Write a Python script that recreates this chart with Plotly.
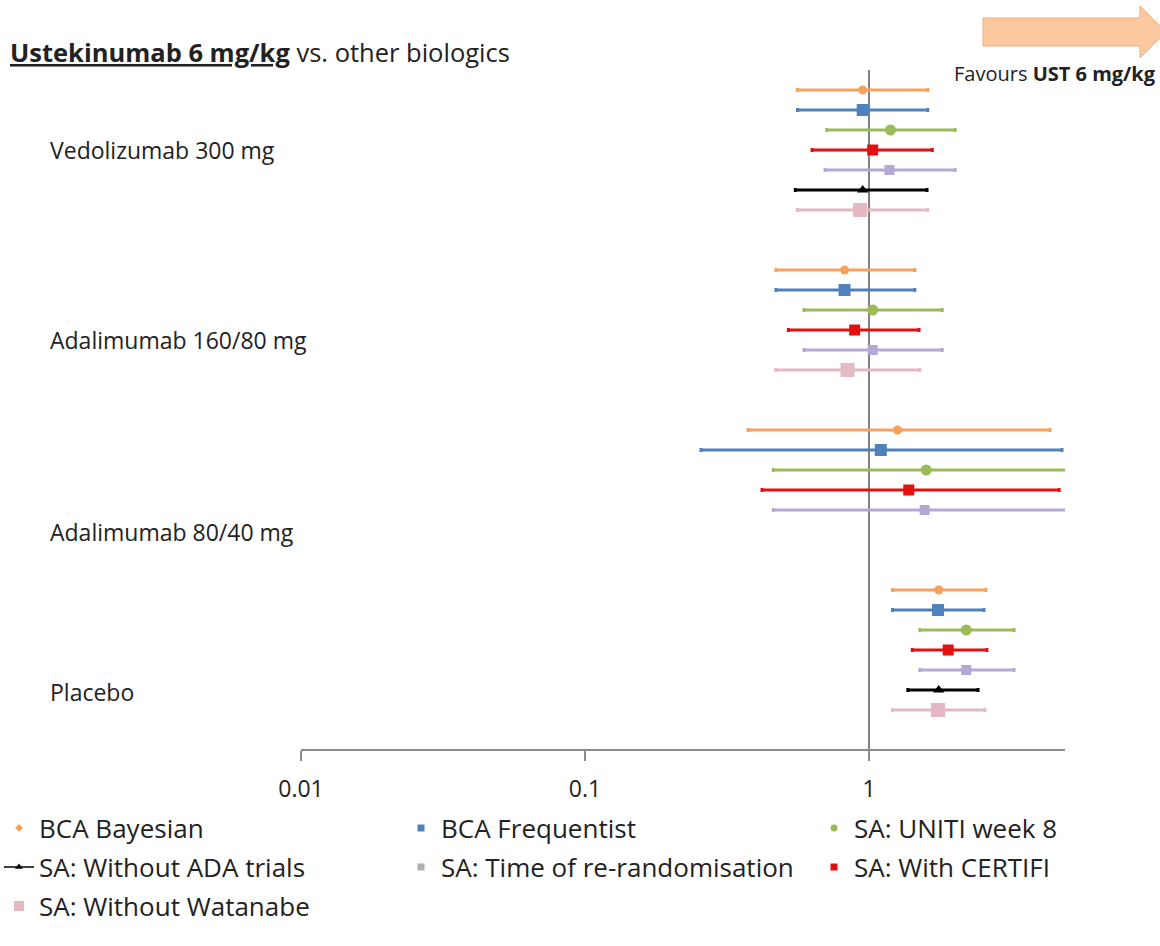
import plotly.graph_objects as go

# ---------------- data ----------------
groups = ["Vedolizumab 300 mg", "Adalimumab 160/80 mg", "Adalimumab 80/40 mg", "Placebo"]

series_names = ["BCA Bayesian", "BCA Frequentist", "SA: UNITI week 8", "SA: With CERTIFI",
                "SA: Time of re-randomisation", "SA: Without ADA trials", "SA: Without Watanabe"]

bayes_est = [0.95, 0.82, 1.26, 1.76]
bayes_lo = [0.56, 0.47, 0.375, 1.21]
bayes_hi = [1.61, 1.45, 4.34, 2.58]

freq_est = [0.95, 0.82, 1.10, 1.75]
freq_lo = [0.56, 0.47, 0.256, 1.21]
freq_hi = [1.61, 1.45, 4.78, 2.54]

uniti_est = [1.19, 1.03, 1.59, 2.20]
uniti_lo = [0.71, 0.59, 0.46, 1.51]
uniti_hi = [2.01, 1.81, 6.0, 3.24]

certifi_est = [1.03, 0.89, 1.38, 1.90]
certifi_lo = [0.63, 0.52, 0.42, 1.42]
certifi_hi = [1.67, 1.50, 4.67, 2.60]

time_est = [1.18, 1.03, 1.57, 2.20]
time_lo = [0.70, 0.59, 0.46, 1.51]
time_hi = [2.01, 1.81, 6.0, 3.24]

noada_est = [0.95, None, None, 1.76]
noada_lo = [0.55, None, None, 1.37]
noada_hi = [1.60, None, None, 2.42]

watanabe_est = [0.93, 0.84, None, 1.75]
watanabe_lo = [0.56, 0.47, None, 1.21]
watanabe_hi = [1.61, 1.51, None, 2.56]

tick_vals = [0.01, 0.1, 1]
tick_text = ["0.01", "0.1", "1"]

# legend order as in the reference (3 columns, row by row)
legend_order = ["BCA Bayesian", "BCA Frequentist", "SA: UNITI week 8",
                "SA: Without ADA trials", "SA: Time of re-randomisation", "SA: With CERTIFI",
                "SA: Without Watanabe"]

# ---------------- layout helpers ----------------
W, H = 1160, 946
ML, MR, MT, MB = 301, 95, 40, 197
PW, PH = W - ML - MR, H - MT - MB
FONT = "Open Sans"

def px_x(p):
    return (p - ML) / PW

def px_y(p):
    return (H - MB - p) / PH

# row slots (one slot = one row of the forest plot)
group_start = [0, 9, 17, 25]
label_slot = [3, 12.5, 22.1, 30.1]
y_range = [32.95, -2.5]

styles = {
    "BCA Bayesian": dict(color="#F7A25A", symbol="circle", size=9),
    "BCA Frequentist": dict(color="#4F81BD", symbol="square", size=12),
    "SA: UNITI week 8": dict(color="#9BBB59", symbol="circle", size=11),
    "SA: With CERTIFI": dict(color="#E41010", symbol="square", size=11),
    "SA: Time of re-randomisation": dict(color="#B6A8D4", symbol="square", size=10),
    "SA: Without ADA trials": dict(color="#000000", symbol="triangle-up", size=10),
    "SA: Without Watanabe": dict(color="#E6B8C3", symbol="square", size=14),
}

series_data = {
    "BCA Bayesian": (bayes_est, bayes_lo, bayes_hi),
    "BCA Frequentist": (freq_est, freq_lo, freq_hi),
    "SA: UNITI week 8": (uniti_est, uniti_lo, uniti_hi),
    "SA: With CERTIFI": (certifi_est, certifi_lo, certifi_hi),
    "SA: Time of re-randomisation": (time_est, time_lo, time_hi),
    "SA: Without ADA trials": (noada_est, noada_lo, noada_hi),
    "SA: Without Watanabe": (watanabe_est, watanabe_lo, watanabe_hi),
}

# compute row slot for each series within each group (stacked in series order)
slots = {name: [None] * len(groups) for name in series_names}
for g in range(len(groups)):
    k = 0
    for name in series_names:
        if series_data[name][0][g] is not None:
            slots[name][g] = group_start[g] + k
            k += 1

fig = go.Figure()

for name in series_names:
    est, lo, hi = series_data[name]
    st = styles[name]
    xs, ys, plus, minus = [], [], [], []
    for g in range(len(groups)):
        if est[g] is None:
            continue
        xs.append(est[g])
        ys.append(slots[name][g])
        plus.append(hi[g] - est[g])
        minus.append(est[g] - lo[g])
    fig.add_trace(go.Scatter(
        x=xs, y=ys, mode="markers", name=name, showlegend=False,
        marker=dict(color=st["color"], symbol=st["symbol"], size=st["size"], line=dict(width=0)),
        error_x=dict(type="data", symmetric=False, array=plus, arrayminus=minus,
                     color=st["color"], thickness=3, width=2),
    ))

# legend-only entries (small icons as in the reference); one legend per entry
legend_sizes = {"BCA Bayesian": 6, "BCA Frequentist": 7, "SA: UNITI week 8": 7,
                "SA: Without ADA trials": 7, "SA: Time of re-randomisation": 7,
                "SA: With CERTIFI": 7, "SA: Without Watanabe": 10}
legend_mark = {"BCA Bayesian": "diamond", "BCA Frequentist": "square", "SA: UNITI week 8": "circle",
               "SA: Without ADA trials": "triangle-up", "SA: Time of re-randomisation": "square",
               "SA: With CERTIFI": "square", "SA: Without Watanabe": "square"}
legend_col = dict((n, styles[n]["color"]) for n in series_names)
legend_col["SA: Time of re-randomisation"] = "#B0B0B0"

col_text_px = [40, 442, 855]
row_px = [828, 867, 906]

legend_layouts = {}
for i, name in enumerate(legend_order):
    lg = "legend" if i == 0 else f"legend{i + 1}"
    mode = "lines+markers" if name == "SA: Without ADA trials" else "markers"
    fig.add_trace(go.Scatter(
        x=[None], y=[None], mode=mode, name=name, legend=lg, showlegend=True,
        marker=dict(color=legend_col[name], symbol=legend_mark[name], size=legend_sizes[name]),
        line=dict(color=legend_col[name], width=1.5),
    ))
    r, c = divmod(i, 3)
    legend_layouts[lg] = dict(orientation="h", x=px_x(col_text_px[c] - 41), xanchor="left",
                              y=px_y(row_px[r]), yanchor="middle",
                              font=dict(family=FONT, size=26, color="#222222"),
                              bgcolor="rgba(0,0,0,0)", itemwidth=30)

annotations = []
for g, lab in enumerate(groups):
    annotations.append(dict(text=lab, xref="paper", yref="y", x=px_x(48), y=label_slot[g],
                            xanchor="left", yanchor="middle", showarrow=False,
                            font=dict(family=FONT, size=23, color="#222222")))

annotations.append(dict(text="<b><u>Ustekinumab 6 mg/kg</u></b> vs. other biologics",
                        xref="paper", yref="paper", x=px_x(8), y=px_y(52),
                        xanchor="left", yanchor="middle", showarrow=False,
                        font=dict(family=FONT, size=25.5, color="#222222")))
annotations.append(dict(text="Favours <b>UST 6 mg/kg</b>",
                        xref="paper", yref="paper", x=px_x(1158), y=px_y(73),
                        xanchor="right", yanchor="middle", showarrow=False,
                        font=dict(family=FONT, size=20, color="#222222")))

# arrow "favours" (pixel geometry converted to paper coordinates)
ax0, ax1, ax2 = 983, 1140, 1166
ay_top, ay_bot, ah_top, ah_bot, ay_mid = 18, 46, 6, 58, 32
pts = [(ax0, ay_top), (ax1, ay_top), (ax1, ah_top), (ax2, ay_mid), (ax1, ah_bot), (ax1, ay_bot), (ax0, ay_bot)]
path = "M " + " L ".join(f"{px_x(a):.5f},{px_y(b):.5f}" for a, b in pts) + " Z"

shapes = [
    dict(type="line", xref="x", yref="y", x0=1, x1=1, y0=-1, y1=y_range[0],
         line=dict(color="#808080", width=2), layer="below"),
    dict(type="path", xref="paper", yref="paper", path=path,
         fillcolor="#FBC8A0", line=dict(color="#F3AE7E", width=1)),
]

fig.update_layout(
    width=W, height=H,
    margin=dict(l=ML, r=MR, t=MT, b=MB, pad=0, autoexpand=False),
    paper_bgcolor="white", plot_bgcolor="white",
    font=dict(family=FONT, color="#222222"),
    showlegend=True,
    annotations=annotations,
    shapes=shapes,
    xaxis=dict(type="log", range=[-2, 0.69], showgrid=False, zeroline=False,
               showline=True, linecolor="#8A8A8A", linewidth=2,
               ticks="outside", ticklen=10, tickwidth=2, tickcolor="#8A8A8A",
               tickvals=tick_vals, ticktext=tick_text, ticklabelstandoff=8,
               tickfont=dict(family=FONT, size=23, color="#222222")),
    yaxis=dict(range=y_range, showgrid=False, zeroline=False, showline=False,
               showticklabels=False, ticks=""),
)
fig.update_layout(**legend_layouts)

fig.write_html("out.html")
